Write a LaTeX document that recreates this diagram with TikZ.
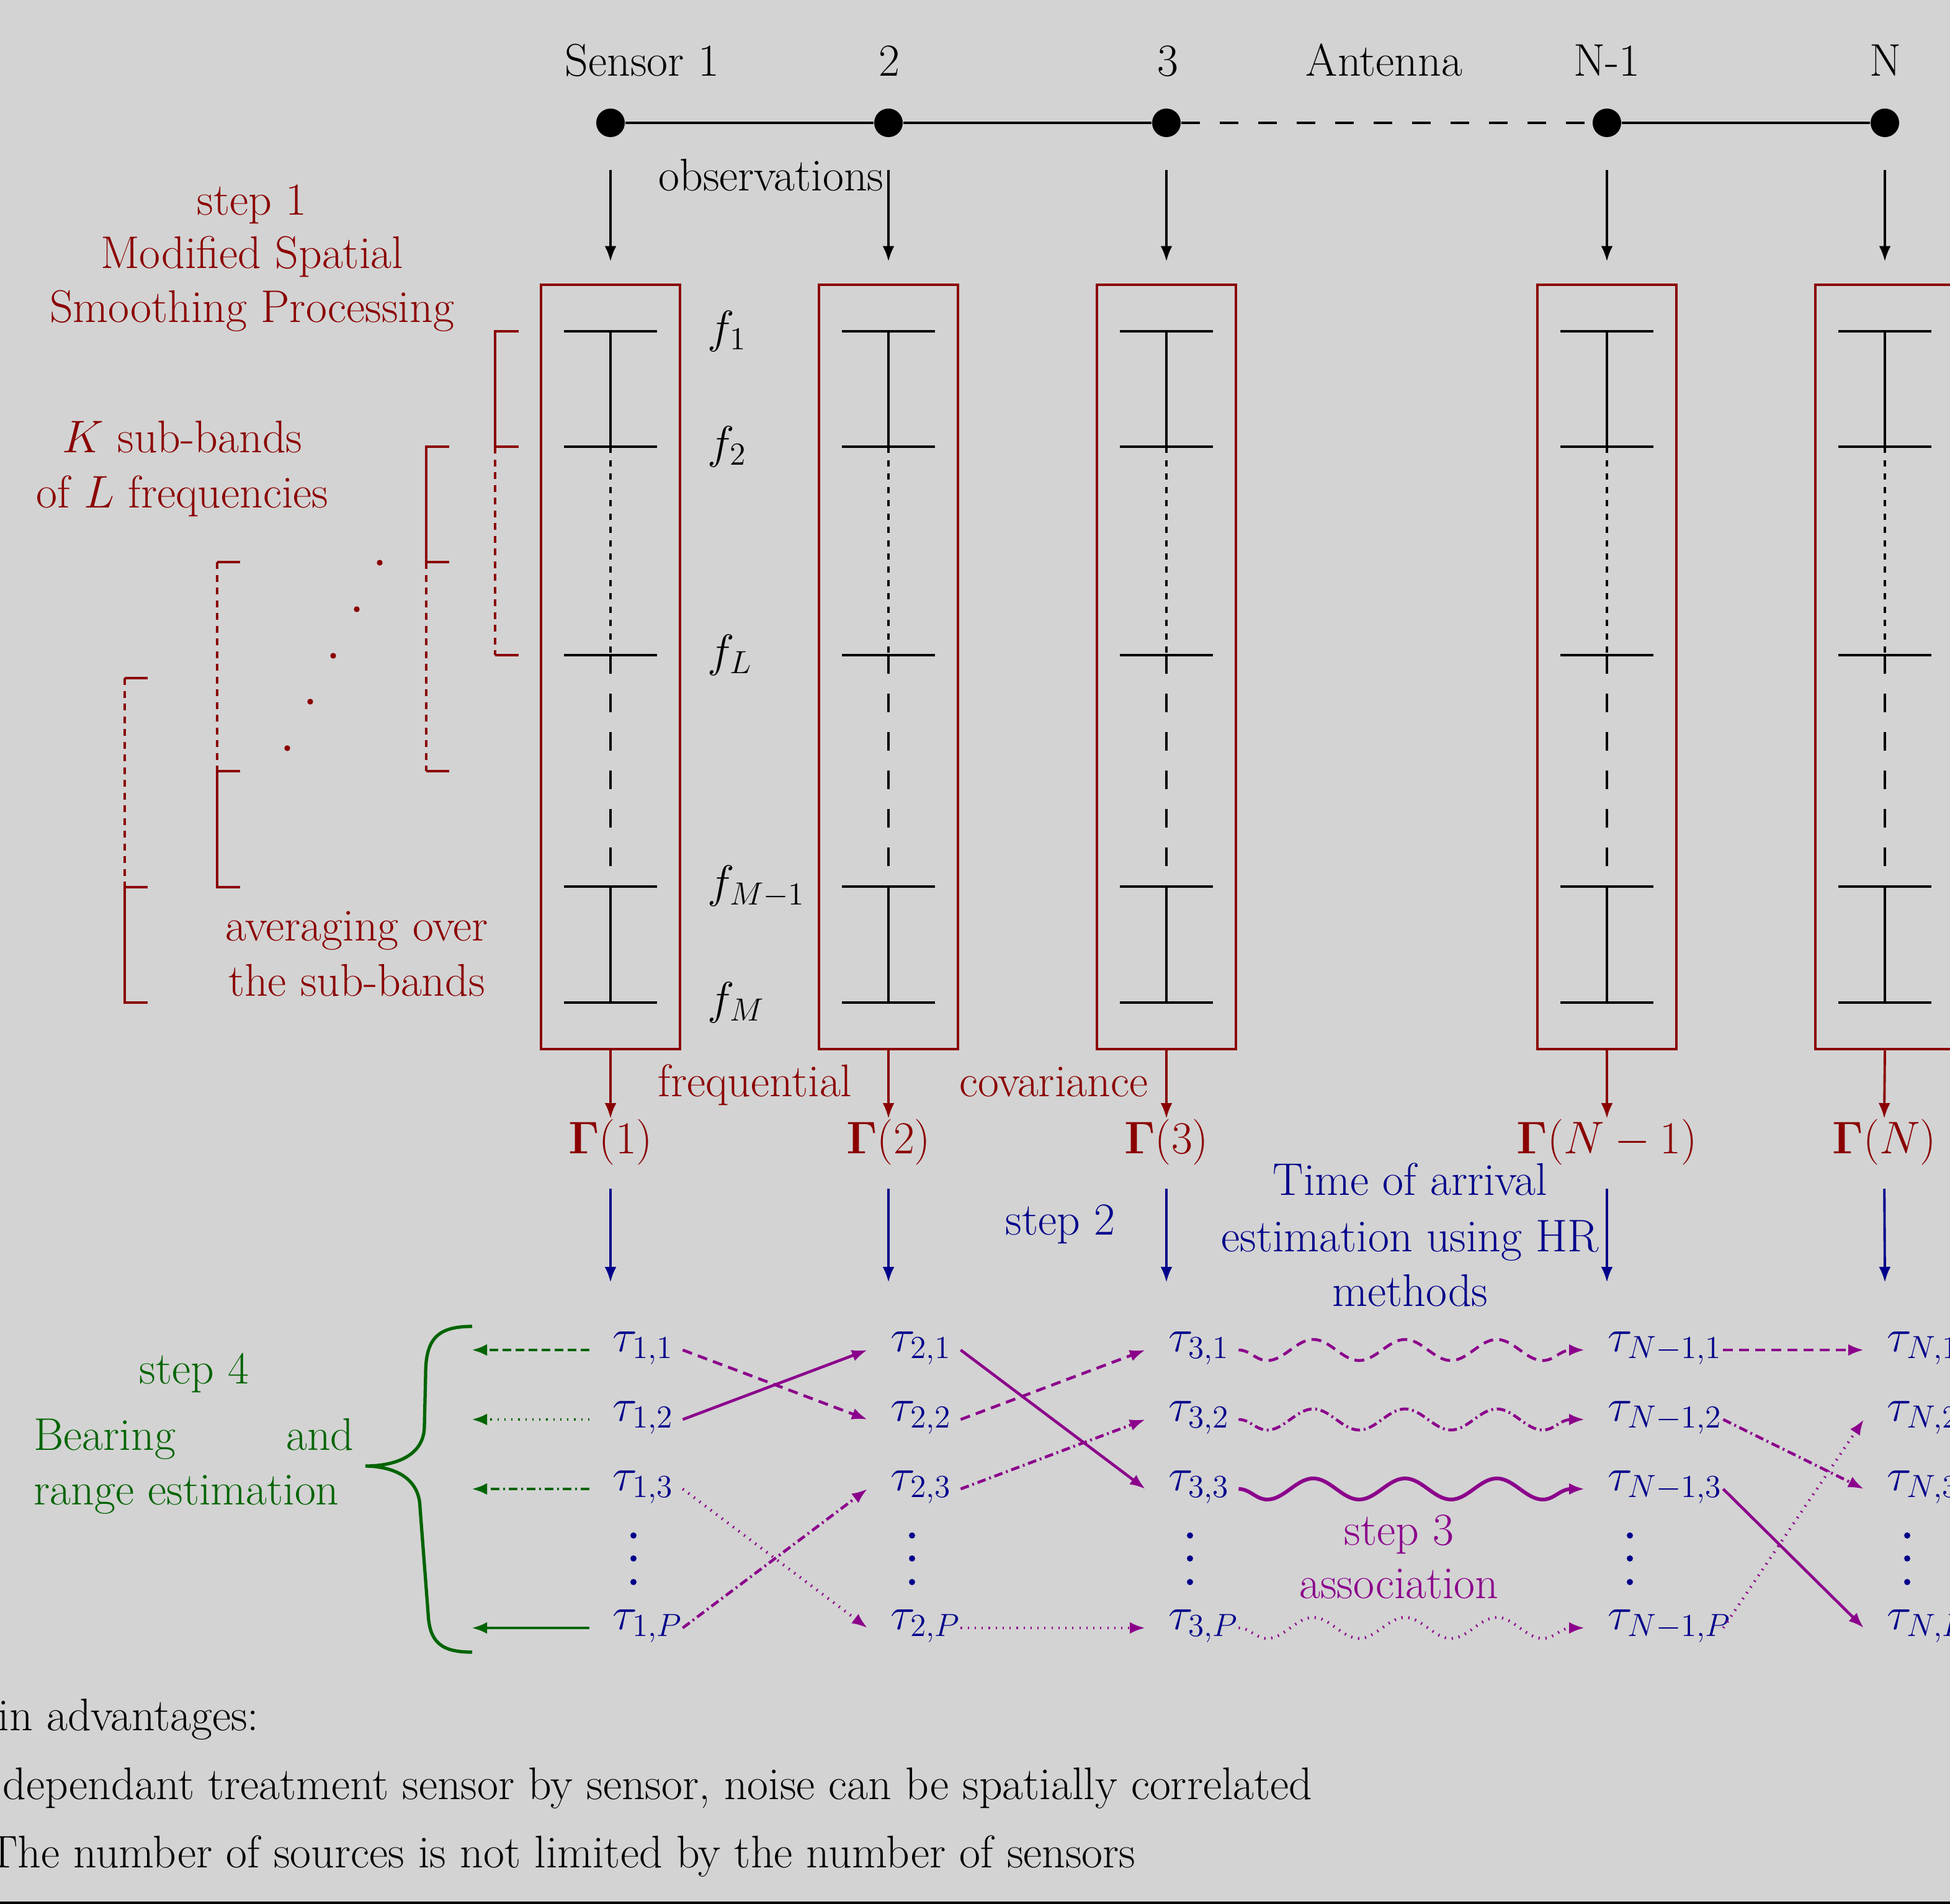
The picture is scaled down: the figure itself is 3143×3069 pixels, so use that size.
\RequirePackage{fix-cm}
\documentclass[tikz,border=0pt]{standalone}
\usepackage{amsmath}
\usetikzlibrary{arrows.meta,decorations.pathmorphing}
\definecolor{bggray}{RGB}{211,211,211}
\definecolor{dred}{RGB}{139,0,0}
\definecolor{dblue}{RGB}{0,0,139}
\definecolor{dpurple}{RGB}{139,0,139}
\definecolor{dgreen}{RGB}{0,100,0}
\begin{document}
\begin{tikzpicture}[x=0.1mm,y=-0.1mm,
  font=\fontsize{21}{25.2}\selectfont,
  lbl/.style={inner sep=0pt},
  tipA/.style={-{Latex[length=2.5mm,width=1.9mm]}},
  sdot/.style={circle,fill=black,minimum size=4.6mm,inner sep=0pt},
  fbox/.style={draw=dred,line width=1.4pt,minimum width=22.4mm,minimum height=123.2mm,inner sep=0pt},
  fline/.style={line width=1.3pt},
  bdotted/.style={dash pattern=on 1mm off 1.15mm},
  rdotted/.style={dash pattern=on 1.1mm off 0.95mm},
  bdashed/.style={dash pattern=on 3mm off 3.2mm},
  obsarrow/.style={tipA,line width=1.1pt,shorten <=5.2mm,shorten >=3.5mm},
  redarrow/.style={tipA,draw=dred,line width=1.1pt},
  bluearrow/.style={tipA,draw=dblue,line width=1.1pt,shorten <=3.8mm},
  tau/.style={anchor=west,inner sep=0pt,text width=#1,align=left,text height=3.4mm,text depth=2.9mm,text=dblue},
  parr/.style={tipA,draw=dpurple,line width=1.3pt},
  pdash/.style={dash pattern=on 1.6mm off 1mm},
  pdot/.style={dash pattern=on 0.6pt off 2.6pt},
  pdashdot/.style={dash pattern=on 1.4mm off 0.6mm on 0.3mm off 0.6mm},
  wave/.style={decorate,decoration={snake,mirror,segment length=14.8mm,amplitude=1.7mm}},
  garr/.style={tipA,draw=dgreen,line width=1.4pt},
]
\useasboundingbox (0,0) rectangle (3143,3069);
\fill[bggray] (0,0) rectangle (3143,3069);
\fill[black] (0,3065) rectangle (3143,3069);

% ---------- antenna ----------
\foreach \n/\x in {a/984,b/1432,c/1880,d/2590,e/3038}{
  \node[sdot] (s\n) at (\x,198) {};
  \node[fbox] (box\n) at (\x,1075) {};
}
\node[lbl,anchor=base] (lsa) at (1035,123) {Sensor 1};
\node[lbl,anchor=base] (lsb) at (1433,123) {2};
\node[lbl,anchor=base] (lsc) at (1882,123) {3};
\node[lbl,anchor=base] (lant) at (2231,123) {Antenna};
\node[lbl,anchor=base] (lsd) at (2590,123) {N-1};
\node[lbl,anchor=base] (lse) at (3039,123) {N};
\draw[line width=1.3pt] (sa) -- (sb) -- (sc);
\draw[line width=1.3pt,bdashed] (sc) -- (sd);
\draw[line width=1.3pt] (sd) -- (se);
\foreach \n in {a,b,c,d,e}{ \draw[obsarrow] (s\n) -- (box\n); }
\node[lbl,anchor=base] (obs) at (1243,308) {observations};

% ---------- frequency ladders ----------
\foreach \x in {984,1432,1880,2590,3038}{
  \foreach \y in {534,720,1056,1429,1616}{ \draw[fline] (\x-75,\y) -- (\x+75,\y); }
  \draw[fline] (\x,534) -- (\x,720);
  \draw[fline,bdotted] (\x,720) -- (\x,1056);
  \draw[fline,bdashed] (\x,1056) -- (\x,1429);
  \draw[fline] (\x,1429) -- (\x,1616);
}
\node[lbl,anchor=west] (f1) at (1140,534) {$f_1$};
\node[lbl,anchor=west] (f2) at (1140,720) {$f_2$};
\node[lbl,anchor=west] (fL) at (1140,1056) {$f_L$};
\node[lbl,anchor=west] (fM1) at (1140,1429) {$f_{M-1}$};
\node[lbl,anchor=west] (fM) at (1140,1616) {$f_M$};

% ---------- sub-band brackets ----------
\begin{scope}[color=dred,line width=1.3pt]
  \draw (836,534) -- (798,534) -- (798,720) -- (836,720);
  \draw[rdotted] (798,720) -- (798,1056);
  \draw (798,1056) -- (836,1056);
  \draw (724,720) -- (687,720) -- (687,906) -- (724,906);
  \draw[rdotted] (687,906) -- (687,1243);
  \draw (687,1243) -- (724,1243);
  \draw (387,906) -- (350,906);
  \draw[rdotted] (350,906) -- (350,1243);
  \draw (387,1243) -- (350,1243) -- (350,1430) -- (387,1430);
  \draw (238,1093) -- (201,1093);
  \draw[rdotted] (201,1093) -- (201,1430);
  \draw (238,1430) -- (201,1430) -- (201,1616) -- (238,1616);
  \foreach \px/\py in {612/907,575/982,537/1057,500/1131,463/1206}{ \fill (\px,\py) circle (0.47mm); }
\end{scope}
\node[lbl,anchor=base,text=dred] (st1a) at (406,347) {step 1};
\node[lbl,anchor=base,text=dred] (st1b) at (406,433) {Modified Spatial};
\node[lbl,anchor=base,text=dred] (st1c) at (406,519) {Smoothing Processing};
\node[lbl,anchor=base,text=dred] (kb1) at (294,729) {$K$ sub-bands};
\node[lbl,anchor=base,text=dred] (kb2) at (294,818) {of $L$ frequencies};
\node[lbl,anchor=base,text=dred] (av1) at (575,1516) {averaging over};
\node[lbl,anchor=base,text=dred] (av2) at (575,1605) {the sub-bands};

% ---------- covariance ----------
\node[lbl,anchor=base,text=dred] (Ga) at (984,1859) {$\mathbf{\Gamma}(1)$};
\node[lbl,anchor=base,text=dred] (Gb) at (1432,1859) {$\mathbf{\Gamma}(2)$};
\node[lbl,anchor=base,text=dred] (Gc) at (1880,1859) {$\mathbf{\Gamma}(3)$};
\node[lbl,anchor=base,text=dred] (Gd) at (2590,1859) {$\mathbf{\Gamma}(N-1)$};
\node[lbl,anchor=base,text=dred] (Ge) at (3037,1859) {$\mathbf{\Gamma}(N)$};
\foreach \n in {a,b,c,d,e}{ \draw[redarrow] (box\n.south) -- (G\n.north); }
\node[lbl,anchor=base,text=dred] (freq) at (1217,1767) {frequential};
\node[lbl,anchor=base,text=dred] (cov) at (1698,1767) {covariance};

% ---------- step 2 ----------
\foreach \n/\x in {a/984,b/1432,c/1880,d/2590,e/3038}{
  \coordinate (bt\n) at (\x,2067);
  \draw[bluearrow] (G\n.south) -- (bt\n);
}
\node[lbl,anchor=base,text=dblue] (st2) at (1709,1990) {step 2};
\node[lbl,anchor=base,text=dblue] (toa1) at (2273,1926) {Time of arrival};
\node[lbl,anchor=base,text=dblue] (toa2) at (2273,2017) {estimation using HR};
\node[lbl,anchor=base,text=dblue] (toa3) at (2273,2105) {methods};

% ---------- delays ----------
\foreach \rr/\y in {1/2176,2/2288,3/2400,P/2624}{
  \node[tau=14.9mm] (ta\rr) at (950,\y) {\hspace*{3.7mm}$\tau_{1,\rr}$};
  \node[tau=14.9mm] (tb\rr) at (1398,\y) {\hspace*{3.7mm}$\tau_{2,\rr}$};
  \node[tau=14.9mm] (tc\rr) at (1846,\y) {\hspace*{3.7mm}$\tau_{3,\rr}$};
  \node[tau=22.2mm] (td\rr) at (2554,\y) {\hspace*{3.7mm}$\tau_{N-1,\rr}$};
  \node[tau=14.9mm] (te\rr) at (3004,\y) {\hspace*{3.7mm}$\tau_{N,\rr}$};
}
\foreach \x in {1021,1470,1918,2627,3074}{
  \foreach \y in {2475,2512,2550}{ \fill[dblue] (\x,\y) circle (0.5mm); }
}

% ---------- step 3: association ----------
\draw[parr,pdash] (ta1.east) -- (tb2.west);
\draw[parr] (ta2.east) -- (tb1.west);
\draw[parr,pdot] (ta3.east) -- (tbP.west);
\draw[parr,pdashdot] (taP.east) -- (tb3.west);
\draw[parr] (tb1.east) -- (tc3.west);
\draw[parr,pdash] (tb2.east) -- (tc1.west);
\draw[parr,pdashdot] (tb3.east) -- (tc2.west);
\draw[parr,pdot] (tbP.east) -- (tcP.west);
\draw[parr,pdash,wave] (tc1.east) -- (td1.west);
\draw[parr,pdashdot,wave] (tc2.east) -- (td2.west);
\draw[parr,line width=1.7pt,wave] (tc3.east) -- (td3.west);
\draw[parr,pdot,wave] (tcP.east) -- (tdP.west);
\draw[parr,pdash] (td1.east) -- (te1.west);
\draw[parr,pdashdot] (td2.east) -- (te3.west);
\draw[parr] (td3.east) -- (teP.west);
\draw[parr,pdot] (tdP.east) -- (te2.west);
\node[lbl,anchor=base,text=dpurple] (st3a) at (2255,2490) {step 3};
\node[lbl,anchor=base,text=dpurple] (st3b) at (2255,2576) {association};

% ---------- step 4 ----------
\coordinate (g1) at (760,2176);
\coordinate (g2) at (760,2288);
\coordinate (g3) at (760,2400);
\coordinate (gP) at (760,2624);
\draw[garr,dash pattern=on 1.4mm off 0.7mm] (ta1.west) -- (g1);
\draw[garr,pdot] (ta2.west) -- (g2);
\draw[garr,pdashdot] (ta3.west) -- (g3);
\draw[garr] (taP.west) -- (gP);
\draw[dgreen,line width=1.5pt] (761,2138) .. controls (705,2138) and (686,2158) .. (686,2215)
  -- (684,2300) .. controls (683,2345) and (640,2363) .. (589,2363)
  .. controls (640,2364) and (676,2385) .. (677,2430)
  -- (690,2600) .. controls (692,2648) and (712,2663) .. (761,2663);
\node[lbl,anchor=base,text=dgreen] (st4) at (313,2230) {step 4};
\node[lbl,anchor=base west,text=dgreen] (br1) at (54,2337) {\hbox to 51.6mm{Bearing\hfill and}};
\node[lbl,anchor=base west,text=dgreen] (br2) at (54,2425) {range estimation};

% ---------- advantages ----------
\node[lbl,anchor=base west] (adv0) at (-4,2789) {in advantages:};
\node[lbl,anchor=base east] (adv1) at (2116,2900) {dependant treatment sensor by sensor, noise can be spatially correlated};
\node[lbl,anchor=base east] (adv2) at (1831,3010) {The number of sources is not limited by the number of sensors};
\end{tikzpicture}
\end{document}
